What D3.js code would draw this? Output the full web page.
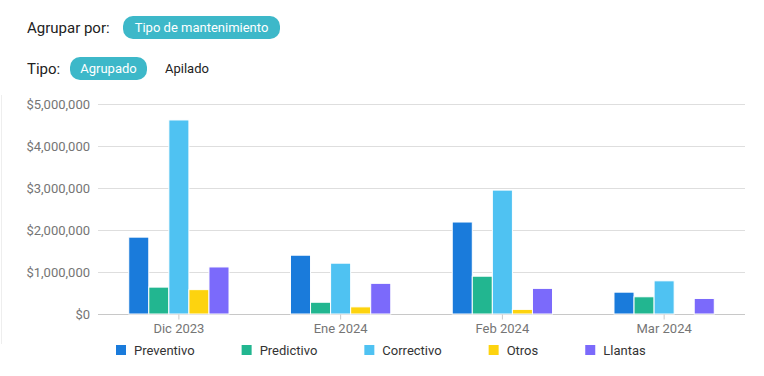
<!DOCTYPE html>
<html>
<head>
<meta charset="utf-8">
<script src="https://cdn.jsdelivr.net/npm/d3@7"></script>
<style>
  body { margin: 0; background: #fff; font-family: Roboto, "Noto Sans", sans-serif; }
  svg text { font-family: Roboto, "Noto Sans", sans-serif; }
</style>
</head>
<body>
<div id="chart"></div>
<script>
const months = ["Dic 2023", "Ene 2024", "Feb 2024", "Mar 2024"];
const seriesNames = ["Preventivo", "Predictivo", "Correctivo", "Otros", "Llantas"];
const seriesColors = ["#1a7bdb", "#22b690", "#4fc2f2", "#fdd30f", "#7b6afb"];
const preventivo = [1830000, 1400000, 2190000, 520000];
const predictivo = [640000, 280000, 900000, 410000];
const correctivo = [4620000, 1210000, 2950000, 790000];
const otros = [580000, 170000, 110000, 0];
const llantas = [1120000, 730000, 610000, 370000];
const yTicks = [0, 1000000, 2000000, 3000000, 4000000, 5000000];

const seriesValues = [preventivo, predictivo, correctivo, otros, llantas];
const data = months.map((m, i) => ({
  month: m,
  values: seriesNames.map((s, j) => ({ key: s, value: seriesValues[j][i] }))
}));

const W = 764, H = 376;
const margin = { top: 104, right: 19, bottom: 62, left: 98 };
const width = W - margin.left - margin.right;
const height = H - margin.top - margin.bottom;

const root = d3.select("#chart").append("svg")
  .attr("width", W)
  .attr("height", H);

// faint card edge on the left
root.append("line")
  .attr("x1", 1.5).attr("x2", 1.5)
  .attr("y1", 95).attr("y2", 344)
  .attr("stroke", "#eeeeee");

// controls
root.append("text")
  .attr("x", 27).attr("y", 33)
  .attr("font-size", 15).attr("fill", "#222")
  .text("Agrupar por:");

root.append("rect")
  .attr("x", 123).attr("y", 16).attr("width", 157).attr("height", 23)
  .attr("rx", 10).attr("fill", "#3db8c9");
root.append("text")
  .attr("x", 201.5).attr("y", 32)
  .attr("text-anchor", "middle")
  .attr("font-size", 13).attr("fill", "#fff")
  .text("Tipo de mantenimiento");

root.append("text")
  .attr("x", 27).attr("y", 74)
  .attr("font-size", 15).attr("fill", "#222")
  .text("Tipo:");

root.append("rect")
  .attr("x", 70).attr("y", 57).attr("width", 77).attr("height", 23)
  .attr("rx", 10).attr("fill", "#3db8c9");
root.append("text")
  .attr("x", 108.5).attr("y", 73)
  .attr("text-anchor", "middle")
  .attr("font-size", 13).attr("fill", "#fff")
  .text("Agrupado");
root.append("text")
  .attr("x", 165).attr("y", 73)
  .attr("font-size", 13).attr("fill", "#222")
  .text("Apilado");

const svg = root.append("g")
  .attr("transform", `translate(${margin.left},${margin.top})`);

const x0 = d3.scaleBand()
  .domain(months)
  .range([0, width])
  .paddingInner(0.38)
  .paddingOuter(0.19);

const x1 = d3.scaleBand()
  .domain(seriesNames)
  .range([0, x0.bandwidth()]);

const y = d3.scaleLinear()
  .domain([0, 5000000])
  .range([height, 0]);

const color = d3.scaleOrdinal().domain(seriesNames).range(seriesColors);

// grid
svg.append("g")
  .selectAll("line")
  .data(yTicks)
  .enter().append("line")
  .attr("x1", 0).attr("x2", width)
  .attr("y1", d => y(d) + 0.5).attr("y2", d => y(d) + 0.5)
  .attr("stroke", d => d === 0 ? "#c8c8c8" : "#dedede");

const yAxis = d3.axisLeft(y)
  .tickValues(yTicks)
  .tickSize(0)
  .tickPadding(8)
  .tickFormat(d => "$" + d3.format(",")(d));

svg.append("g")
  .call(yAxis)
  .call(g => g.select(".domain").remove())
  .selectAll("text")
  .attr("font-size", 13)
  .attr("fill", "#757575");

// bars
svg.selectAll(".group")
  .data(data)
  .enter().append("g")
  .attr("class", "group")
  .attr("transform", d => `translate(${x0(d.month)},0)`)
  .selectAll("rect")
  .data(d => d.values)
  .enter().append("rect")
  .attr("x", d => x1(d.key))
  .attr("y", d => y(d.value))
  .attr("width", x1.bandwidth())
  .attr("height", d => height - y(d.value))
  .attr("fill", d => color(d.key))
  .attr("stroke", "#fff")
  .attr("stroke-width", 1);

const xAxis = d3.axisBottom(x0).tickSize(5).tickPadding(4);

svg.append("g")
  .attr("transform", `translate(0,${height + 0.5})`)
  .call(xAxis)
  .call(g => g.select(".domain").remove())
  .call(g => g.selectAll(".tick line").attr("stroke", "#c8c8c8"))
  .selectAll("text")
  .attr("font-size", 13)
  .attr("fill", "#757575");

// legend
const legend = root.append("g")
  .attr("transform", "translate(116,350)");

let lx = 0;
seriesNames.forEach((s, i) => {
  const item = legend.append("g").attr("transform", `translate(${lx},0)`);
  item.append("rect")
    .attr("x", 0).attr("y", -5)
    .attr("width", 10).attr("height", 10)
    .attr("fill", color(s));
  const t = item.append("text")
    .attr("x", 18).attr("y", 5)
    .attr("font-size", 13)
    .attr("fill", "#333")
    .text(s);
  lx += 18 + t.node().getComputedTextLength() + 47;
});
</script>
</body>
</html>
